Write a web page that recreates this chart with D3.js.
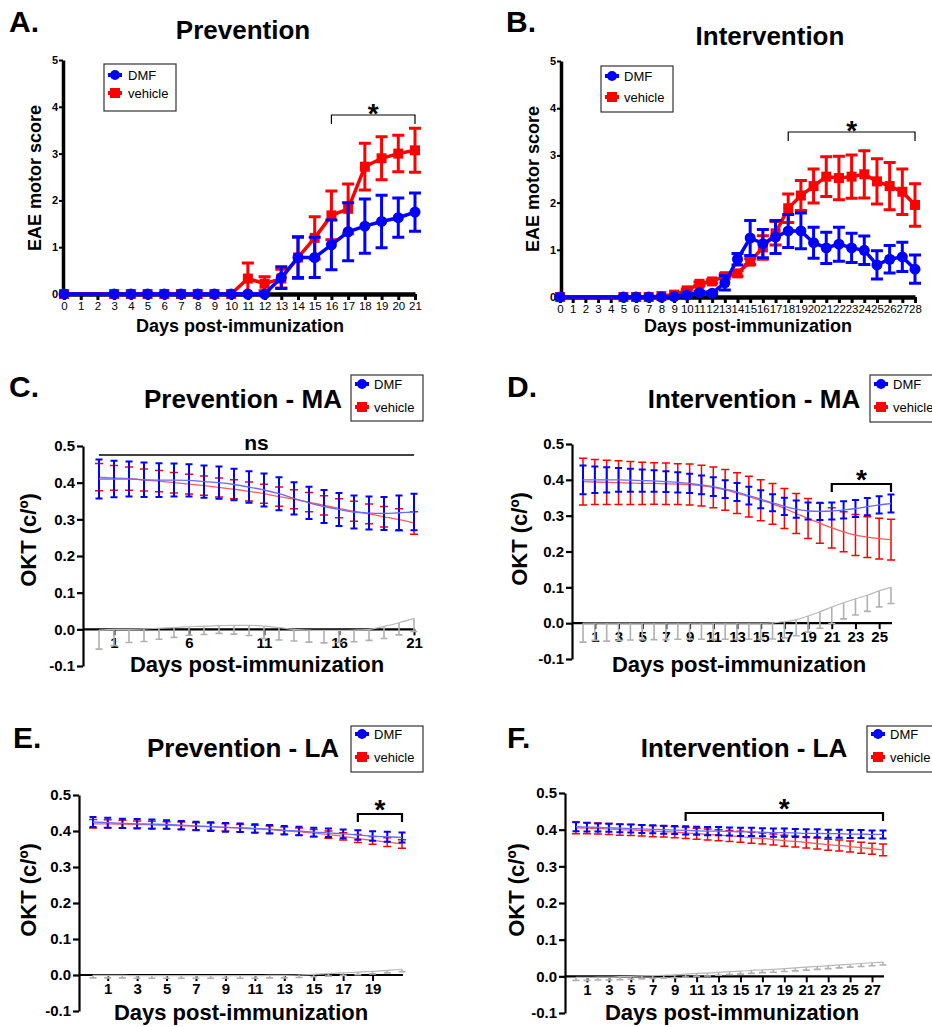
<!DOCTYPE html>
<html><head><meta charset="utf-8">
<script src="https://cdn.jsdelivr.net/npm/d3@7"></script>
<style>
body{margin:0;background:#fff}
text{font-family:"Liberation Sans",Arial,sans-serif}
</style></head><body>
<svg width="932" height="1027"></svg>
<script>
// ---- EAE motor score (A, B) ----
var prevDays = [0,3,4,5,6,7,8,9,10,11,12,13,14,15,16,17,18,19,20,21];
var prevDmf = [0,0,0,0,0,0,0,0,0,0,0,0.35,0.78,0.78,1.05,1.33,1.45,1.55,1.63,1.75];
var prevDmfErr = [0,0,0,0,0,0,0,0,0,0,0,0.23,0.43,0.43,0.53,0.62,0.58,0.56,0.42,0.41];
var prevVeh = [0,0,0,0,0,0,0,0,0,0.33,0.22,0.33,0.78,1.2,1.68,1.82,2.72,2.9,3.0,3.07];
var prevVehErr = [0,0,0,0,0,0,0,0,0,0.33,0.15,0.2,0.45,0.45,0.52,0.53,0.5,0.46,0.39,0.47];

var intDays = [0,5,6,7,8,9,10,11,12,13,14,15,16,17,18,19,20,21,22,23,24,25,26,27,28];
var intDmf = [0,0,0,0,0,0.01,0.04,0.09,0.08,0.3,0.8,1.25,1.13,1.27,1.4,1.4,1.15,1.04,1.12,1.04,0.99,0.68,0.8,0.85,0.59];
var intDmfErr = [0,0,0,0,0,0.02,0.03,0.03,0.03,0.15,0.12,0.37,0.3,0.35,0.35,0.38,0.33,0.33,0.36,0.31,0.3,0.3,0.29,0.31,0.3];
var intVeh = [0,0,0,0,0.02,0.05,0.14,0.28,0.33,0.44,0.5,0.75,1.05,1.35,1.88,2.15,2.35,2.55,2.52,2.55,2.6,2.45,2.35,2.23,1.95];
var intVehErr = [0,0,0,0,0,0.02,0.03,0.04,0.04,0.05,0.06,0.06,0.25,0.25,0.3,0.32,0.36,0.42,0.46,0.46,0.5,0.48,0.5,0.48,0.45];

// ---- OKT (C-F), one value per day starting at day 0 ----
var maDmfPrev = [0.41,0.41,0.41,0.408,0.407,0.407,0.406,0.403,0.4,0.395,0.388,0.38,0.37,0.357,0.345,0.335,0.327,0.32,0.317,0.316,0.318,0.32];
var maDmfPrevErr = [0.053,0.05,0.048,0.047,0.046,0.045,0.044,0.044,0.044,0.043,0.043,0.045,0.045,0.044,0.044,0.045,0.045,0.045,0.045,0.045,0.047,0.05];
var maVehPrev = [0.415,0.413,0.411,0.407,0.404,0.4,0.396,0.392,0.387,0.382,0.376,0.37,0.362,0.355,0.347,0.338,0.33,0.322,0.315,0.307,0.299,0.29];
var maVehPrevErr = [0.037,0.034,0.032,0.03,0.029,0.028,0.027,0.026,0.026,0.026,0.026,0.026,0.026,0.026,0.026,0.026,0.026,0.027,0.027,0.028,0.03,0.031];
var maDiffPrev = [-0.002,0,0,0.001,0.003,0.005,0.007,0.009,0.01,0.011,0.011,0.009,0.005,0,-0.002,-0.003,-0.003,-0.002,0,0.008,0.018,0.03];
var maDiffPrevErr = [0.052,0.044,0.036,0.034,0.03,0.027,0.023,0.023,0.021,0.024,0.028,0.034,0.034,0.032,0.033,0.034,0.033,0.032,0.03,0.033,0.033,0.036];

var maDmfInt = [0.4,0.4,0.4,0.4,0.399,0.398,0.397,0.395,0.393,0.39,0.386,0.381,0.374,0.366,0.356,0.346,0.336,0.326,0.318,0.313,0.312,0.313,0.316,0.32,0.325,0.33,0.334];
var maDmfIntErr = [0.04,0.037,0.035,0.033,0.032,0.031,0.03,0.029,0.028,0.027,0.026,0.026,0.025,0.025,0.025,0.025,0.024,0.024,0.024,0.024,0.024,0.024,0.024,0.024,0.024,0.024,0.025];
var maVehInt = [0.395,0.394,0.393,0.392,0.391,0.39,0.39,0.389,0.388,0.387,0.384,0.379,0.372,0.363,0.353,0.343,0.333,0.32,0.306,0.292,0.279,0.266,0.255,0.246,0.24,0.236,0.233];
var maVehIntErr = [0.065,0.063,0.062,0.061,0.06,0.059,0.058,0.058,0.057,0.057,0.057,0.057,0.057,0.057,0.057,0.057,0.057,0.056,0.056,0.056,0.056,0.056,0.056,0.057,0.057,0.057,0.057];
var maDiffInt = [0,0,0,0,0,0,0,0,0,0,0,0,0,0,0,0,0.001,0.004,0.01,0.02,0.032,0.045,0.057,0.068,0.078,0.09,0.1];
var maDiffIntErr = [0.053,0.048,0.05,0.048,0.047,0.046,0.046,0.046,0.045,0.045,0.045,0.045,0.045,0.045,0.045,0.045,0.045,0.045,0.045,0.045,0.046,0.046,0.045,0.045,0.045,0.045,0.045];

var laDmfPrev = [0.425,0.423,0.421,0.42,0.419,0.418,0.416,0.414,0.412,0.41,0.409,0.407,0.405,0.402,0.4,0.397,0.395,0.392,0.389,0.386,0.384,0.382];
var laDmfPrevErr = [0.014,0.014,0.013,0.013,0.013,0.012,0.012,0.012,0.012,0.012,0.012,0.012,0.012,0.012,0.012,0.012,0.012,0.012,0.013,0.013,0.014,0.014];
var laVehPrev = [0.42,0.42,0.419,0.418,0.417,0.416,0.415,0.413,0.412,0.41,0.408,0.406,0.404,0.401,0.398,0.394,0.39,0.385,0.379,0.374,0.369,0.364];
var laVehPrevErr = [0.012,0.011,0.011,0.01,0.01,0.01,0.01,0.01,0.01,0.01,0.01,0.01,0.01,0.01,0.01,0.01,0.01,0.01,0.011,0.011,0.012,0.012];
var laDiffPrev = [-0.001,-0.001,-0.001,-0.002,-0.002,-0.002,-0.002,-0.002,-0.002,-0.002,-0.002,-0.002,-0.001,-0.001,0,0.002,0.004,0.006,0.008,0.01,0.013,0.016];
var laDiffPrevErr = [0.007,0.007,0.007,0.007,0.007,0.007,0.007,0.007,0.007,0.007,0.007,0.007,0.007,0.007,0.007,0.007,0.007,0.007,0.007,0.007,0.007,0.007];

var laDmfInt = [0.408,0.407,0.406,0.405,0.404,0.403,0.402,0.401,0.4,0.399,0.398,0.397,0.396,0.396,0.395,0.394,0.394,0.393,0.392,0.392,0.391,0.39,0.39,0.389,0.389,0.388,0.388,0.387,0.387];
var laDmfIntErr = [0.012,0.012,0.011,0.011,0.011,0.011,0.011,0.011,0.011,0.011,0.011,0.011,0.011,0.011,0.011,0.011,0.011,0.011,0.011,0.011,0.011,0.011,0.011,0.011,0.011,0.011,0.011,0.011,0.011];
var laVehInt = [0.405,0.404,0.403,0.402,0.4,0.399,0.398,0.396,0.395,0.393,0.391,0.389,0.387,0.385,0.383,0.381,0.378,0.376,0.373,0.37,0.368,0.365,0.362,0.359,0.357,0.354,0.351,0.348,0.345];
var laVehIntErr = [0.016,0.015,0.015,0.015,0.015,0.015,0.015,0.015,0.015,0.015,0.015,0.015,0.015,0.015,0.015,0.015,0.015,0.015,0.015,0.015,0.015,0.015,0.015,0.015,0.015,0.015,0.015,0.015,0.016];
var laDiffInt = [-0.003,-0.003,-0.002,-0.002,-0.001,0,0.001,0.002,0.003,0.004,0.006,0.008,0.009,0.011,0.013,0.014,0.016,0.018,0.019,0.021,0.023,0.025,0.027,0.029,0.031,0.033,0.035,0.037,0.039];
var laDiffIntErr = [0.008,0.008,0.008,0.008,0.008,0.008,0.008,0.008,0.008,0.008,0.008,0.008,0.008,0.008,0.008,0.008,0.008,0.008,0.008,0.008,0.008,0.008,0.008,0.008,0.008,0.008,0.008,0.008,0.008];

var seriesNames = ["DMF", "vehicle"];
var okTicks = [-0.1, 0, 0.1, 0.2, 0.3, 0.4, 0.5];

var BLUE = "#0000ff", RED = "#ff0000";
var svg = d3.select("svg");

function txt(s, x, y, size, weight, anchor) {
    return svg.append("text").attr("x", x).attr("y", y)
        .attr("font-size", size).attr("font-weight", weight || "bold")
        .attr("text-anchor", anchor || "start").text(s);
}
function vtxt(s, x, y, size) {
    return svg.append("text").attr("transform", "translate(" + x + "," + y + ") rotate(-90)")
        .attr("font-size", size).attr("font-weight", "bold")
        .attr("text-anchor", "middle").text(s);
}

function legend(bx, by, w, h, mx, tx, y1, y2) {
    svg.append("rect").attr("x", bx).attr("y", by).attr("width", w).attr("height", h)
        .attr("fill", "#fff").attr("stroke", "#333").attr("stroke-width", 1.2);
    [y1, y2].forEach(function (yy, i) {
        var c = i ? RED : BLUE;
        svg.append("line").attr("x1", mx - 7).attr("x2", mx + 7).attr("y1", yy).attr("y2", yy)
            .attr("stroke", c).attr("stroke-width", 4);
        if (i) svg.append("rect").attr("x", mx - 5).attr("y", yy - 5).attr("width", 10).attr("height", 10).attr("fill", c);
        else svg.append("circle").attr("cx", mx).attr("cy", yy).attr("r", 5).attr("fill", c);
        txt(seriesNames[i], tx, yy + 5, 13, "normal");
    });
}

function bracket(x1, x2, y, drop, w) {
    svg.append("path").attr("d", "M" + x1 + "," + (y + drop) + "V" + y + "H" + x2 + "V" + (y + drop))
        .attr("fill", "none").attr("stroke", "#000").attr("stroke-width", w);
}

// -------- A / B --------
function scorePanel(o) {
    var x = d3.scaleLinear().domain([0, o.maxDay]).range([o.x0, o.x1]);
    var y = d3.scaleLinear().domain([0, 5]).range([o.y0, o.y1]);
    var ya = svg.append("g").attr("transform", "translate(" + o.ax + ",0)")
        .call(d3.axisLeft(y).ticks(5).tickSize(4).tickSizeOuter(0).tickPadding(1));
    ya.select(".domain").attr("stroke-width", 3.5);
    ya.selectAll(".tick line").attr("stroke-width", 2);
    ya.selectAll("text").attr("font-size", 11).attr("font-weight", "bold").attr("font-family", "Liberation Sans, Arial");

    var xa = svg.append("g").attr("transform", "translate(0," + o.y0 + ")")
        .call(d3.axisBottom(x).tickValues(d3.range(0, o.maxDay + 1)).tickFormat(d3.format("d"))
            .tickSize(6).tickSizeOuter(0).tickPadding(2));
    xa.select(".domain").attr("stroke-width", 4.5);
    xa.selectAll(".tick line").attr("stroke-width", 3);
    xa.selectAll("text").attr("font-size", 11.5).attr("font-family", "Liberation Sans, Arial");

    var series = [
        { v: o.veh, e: o.vehErr, c: RED, sq: true },
        { v: o.dmf, e: o.dmfErr, c: BLUE, sq: false }
    ];
    series.forEach(function (s) {
        var pts = o.days.map(function (d, i) { return { d: d, v: s.v[i], e: s.e[i] }; });
        var g = svg.append("g");
        g.selectAll("path.eb").data(pts.filter(function (p) { return p.e > 0.02; })).enter()
            .append("path").attr("class", "eb")
            .attr("d", function (p) {
                var cx = x(p.d), t = y(p.v + p.e), b = y(Math.max(0, p.v - p.e));
                return "M" + cx + "," + t + "V" + b + "M" + (cx - 6) + "," + t + "H" + (cx + 6) +
                    "M" + (cx - 6) + "," + b + "H" + (cx + 6);
            })
            .attr("stroke", s.c).attr("stroke-width", 3).attr("fill", "none");
        g.append("path").datum(pts)
            .attr("d", d3.line().x(function (p) { return x(p.d); }).y(function (p) { return y(p.v); }))
            .attr("stroke", s.c).attr("stroke-width", 3.5).attr("fill", "none");
        if (s.sq) {
            g.selectAll("rect").data(pts).enter().append("rect")
                .attr("x", function (p) { return x(p.d) - 5; }).attr("y", function (p) { return y(p.v) - 5; })
                .attr("width", 10).attr("height", 10).attr("fill", s.c);
        } else {
            g.selectAll("circle").data(pts).enter().append("circle")
                .attr("cx", function (p) { return x(p.d); }).attr("cy", function (p) { return y(p.v); })
                .attr("r", 5.5).attr("fill", s.c);
        }
    });
    bracket(x(o.sig[0]), x(o.sig[1]), o.sigY, 9, 1.2);
    txt("*", (x(o.sig[0]) + x(o.sig[1])) / 2, o.sigY + 8, 28, "bold", "middle");
}

scorePanel({ days: prevDays, dmf: prevDmf, dmfErr: prevDmfErr, veh: prevVeh, vehErr: prevVehErr,
    maxDay: 21, x0: 64, x1: 415, y0: 294, y1: 60, ax: 63, sig: [16, 21], sigY: 115 });
scorePanel({ days: intDays, dmf: intDmf, dmfErr: intDmfErr, veh: intVeh, vehErr: intVehErr,
    maxDay: 28, x0: 560, x1: 915, y0: 297, y1: 61, ax: 561, sig: [18, 28], sigY: 132 });

txt("A.", 9, 32, 30);
txt("B.", 506, 32, 30);
txt("Prevention", 243, 39, 26, "bold", "middle");
txt("Intervention", 770, 45, 26, "bold", "middle");
vtxt("EAE motor score", 41, 178, 18);
vtxt("EAE motor score", 539, 179, 18);
txt("Days post-immunization", 240, 332, 18, "bold", "middle");
txt("Days post-immunization", 748, 332, 18, "bold", "middle");
legend(104, 64, 72, 47, 115, 128, 75, 93);
legend(601, 66, 72, 46, 612, 624, 76, 97);

// -------- C - F --------
function oktPanel(o) {
    var n = o.dmf.length, maxDay = n - 1;
    var x = d3.scaleLinear().domain([0, maxDay]).range([o.x0, o.x1]);
    var y = d3.scaleLinear().domain([-0.1, 0.5]).range([o.y0, o.y1]);

    var ya = svg.append("g").attr("transform", "translate(" + o.ax + ",0)")
        .call(d3.axisLeft(y).tickValues(okTicks).tickFormat(function (d) { return d.toFixed(1); })
            .tickSize(6).tickSizeOuter(0).tickPadding(2));
    ya.select(".domain").attr("stroke-width", 2.2);
    ya.selectAll(".tick line").attr("stroke-width", 2.2);
    ya.selectAll("text").attr("font-size", 15).attr("font-weight", "bold").attr("font-family", "Liberation Sans, Arial");

    svg.append("line").attr("x1", o.ax).attr("x2", x(maxDay) + 1).attr("y1", y(0)).attr("y2", y(0))
        .attr("stroke", "#000").attr("stroke-width", 2.2);
    var xa = svg.append("g").attr("transform", "translate(0," + y(0) + ")")
        .call(d3.axisBottom(x).tickValues(o.ticks).tickFormat(d3.format("d")).tickSize(6).tickSizeOuter(0).tickPadding(2));
    xa.select(".domain").remove();
    xa.selectAll(".tick line").attr("stroke-width", 2);
    xa.selectAll("text").attr("font-size", 15).attr("font-weight", "bold").attr("font-family", "Liberation Sans, Arial");

    var line = d3.line().curve(d3.curveMonotoneX)
        .x(function (p) { return x(p.d); }).y(function (p) { return y(p.v); });
    function pts(v, e) { return v.map(function (val, i) { return { d: i, v: val, e: e[i] }; }); }

    // difference trace (grey, lower error only)
    var gp = pts(o.diff, o.diffErr);
    svg.append("g").selectAll("path").data(gp).enter().append("path")
        .attr("d", function (p) {
            var cx = x(p.d), b = y(p.v - p.e);
            return "M" + cx + "," + y(p.v) + "V" + b + "M" + (cx - 3.5) + "," + b + "H" + (cx + 3.5);
        })
        .attr("stroke", "#b0b0b0").attr("stroke-width", 1.6).attr("fill", "none");
    svg.append("path").datum(gp).attr("d", line).attr("stroke", "#b8b8b8").attr("stroke-width", 1.2).attr("fill", "none");

    [{ v: o.veh, e: o.vehErr, c: RED, lc: "#ff5a5a", w: 1.5, cap: 4 },
     { v: o.dmf, e: o.dmfErr, c: BLUE, lc: "#6a6aff", w: 2, cap: 3.5 }].forEach(function (s) {
        var p = pts(s.v, s.e);
        svg.append("g").selectAll("path").data(p).enter().append("path")
            .attr("d", function (q) {
                var cx = x(q.d), t = y(q.v + q.e), b = y(q.v - q.e);
                return "M" + cx + "," + t + "V" + b + "M" + (cx - s.cap) + "," + t + "H" + (cx + s.cap) +
                    "M" + (cx - s.cap) + "," + b + "H" + (cx + s.cap);
            })
            .attr("stroke", s.c).attr("stroke-width", s.w).attr("fill", "none");
        svg.append("path").datum(p).attr("d", line).attr("stroke", s.lc).attr("stroke-width", 1.3).attr("fill", "none");
    });

    if (o.ns) {
        svg.append("line").attr("x1", x(0)).attr("x2", x(maxDay)).attr("y1", o.sigY).attr("y2", o.sigY)
            .attr("stroke", "#000").attr("stroke-width", 1.5);
        txt("ns", (x(0) + x(maxDay)) / 2, o.sigY - 5, 21, "bold", "middle");
    } else {
        bracket(x(o.sig[0]), x(o.sig[1]), o.sigY, 8, 2.2);
        txt("*", (x(o.sig[0]) + x(o.sig[1])) / 2, o.sigY + 5, 28, "bold", "middle");
    }
}

oktPanel({ dmf: maDmfPrev, dmfErr: maDmfPrevErr, veh: maVehPrev, vehErr: maVehPrevErr, diff: maDiffPrev, diffErr: maDiffPrevErr,
    ticks: [1, 6, 11, 16, 21], x0: 99, x1: 414, y0: 666, y1: 446, ax: 83, ns: true, sigY: 455 });
oktPanel({ dmf: maDmfInt, dmfErr: maDmfIntErr, veh: maVehInt, vehErr: maVehIntErr, diff: maDiffInt, diffErr: maDiffIntErr,
    ticks: d3.range(1, 26, 2), x0: 583, x1: 891, y0: 659, y1: 444, ax: 572, sig: [21, 26], sigY: 484 });
oktPanel({ dmf: laDmfPrev, dmfErr: laDmfPrevErr, veh: laVehPrev, vehErr: laVehPrevErr, diff: laDiffPrev, diffErr: laDiffPrevErr,
    ticks: d3.range(1, 20, 2), x0: 93, x1: 402, y0: 1011, y1: 795, ax: 79, sig: [18, 21], sigY: 814 });
oktPanel({ dmf: laDmfInt, dmfErr: laDmfIntErr, veh: laVehInt, vehErr: laVehIntErr, diff: laDiffInt, diffErr: laDiffIntErr,
    ticks: d3.range(1, 28, 2), x0: 576, x1: 883, y0: 1013, y1: 793, ax: 565, sig: [10, 28], sigY: 813 });

txt("C.", 9, 397, 30);
txt("D.", 507, 397, 30);
txt("E.", 13, 748, 30);
txt("F.", 507, 748, 30);
txt("Prevention - MA", 243, 408, 26, "bold", "middle");
txt("Intervention - MA", 754, 408, 26, "bold", "middle");
txt("Prevention - LA", 243, 757, 26, "bold", "middle");
txt("Intervention - LA", 744, 757, 26, "bold", "middle");
vtxt("OKT (c/º)", 36, 540, 22);
vtxt("OKT (c/º)", 527, 539, 22);
vtxt("OKT (c/º)", 36, 890, 22);
vtxt("OKT (c/º)", 524, 890, 22);
txt("Days post-immunization", 257, 672, 22, "bold", "middle");
txt("Days post-immunization", 739, 672, 22, "bold", "middle");
txt("Days post-immunization", 241, 1020, 22, "bold", "middle");
txt("Days post-immunization", 732, 1020, 22, "bold", "middle");
legend(351, 375, 72, 46, 362, 374, 384, 407);
legend(870, 375, 75, 47, 881, 893, 384, 407);
legend(351, 726, 72, 46, 362, 374, 734, 757);
legend(867, 726, 75, 46, 878, 890, 734, 757);
</script>
</body></html>
